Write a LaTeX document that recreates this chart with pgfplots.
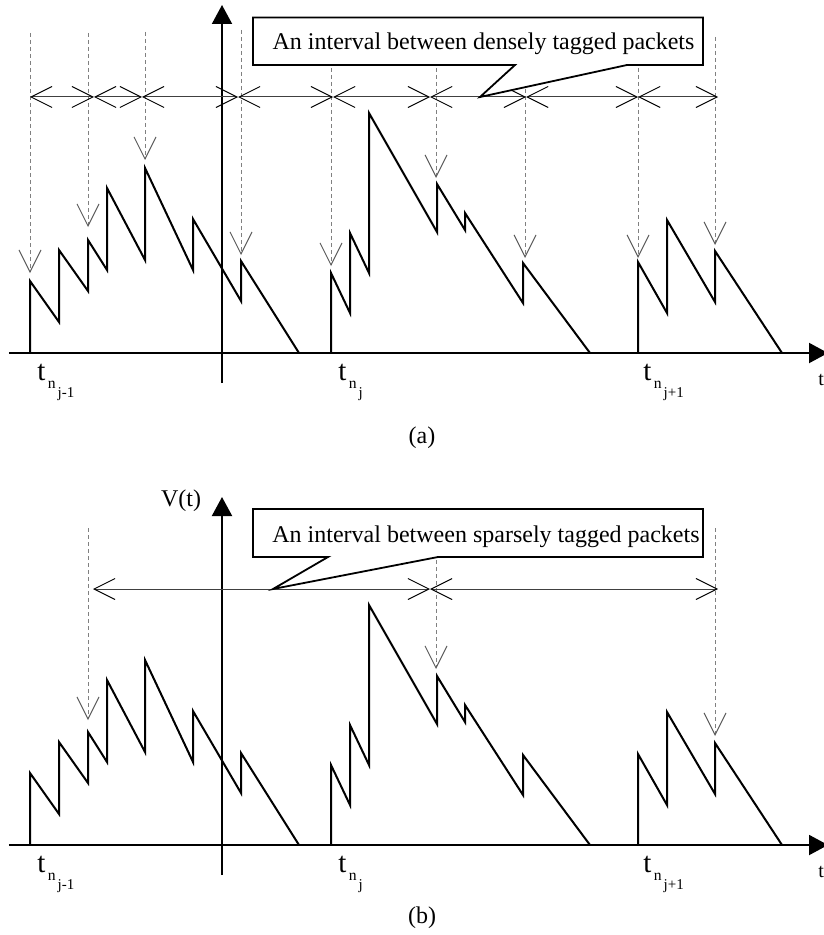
\documentclass[border=0pt]{standalone}
\usepackage{fontspec}
\setmainfont{Liberation Serif}
\usepackage{pgfplots}
\usepackage{pgfplotstable}
\pgfplotsset{compat=1.18}
\usetikzlibrary{arrows.meta}

% sawtooth V(t), t measured from the vertical axis
\pgfplotstableread{
t V
-192 0
-192 72
-163 31
-163 103
-134 62
-134 113
-115 83
-115 165
-77 93
-77 185
-29 83
-29 134
19 52
19 92
77 0
}\sawA
\pgfplotstableread{
t V
109 0
109 80
128 40
128 120
147 80
147 240
215 121
215 169
243 123
243 140
301 50
301 90
368 0
}\sawB
\pgfplotstableread{
t V
416 0
416 91
445 40
445 133
493 51
493 102
560 0
}\sawC

\newcommand{\tlab}[1]{{\fontsize{14.5}{15}\selectfont t}\kern1.2pt\raisebox{-4pt}{\fontsize{7.8}{8}\selectfont n\kern1pt\raisebox{-4.5pt}{\fontsize{7.5}{8}\selectfont #1}}}

\pgfplotsset{
  panel/.style={x=0.5pt, y=0.5pt, xmin=-213, xmax=606, ymin=-30, ymax=348,
    axis lines=middle, xtick=\empty, ytick=\empty, enlargelimits=false, clip=false,
    axis line style={line width=1pt, black},
    inner axis line style={-{Triangle[length=9.5pt,width=10pt]}},
    anchor=south west},
  saw/.style={black, line width=1pt, line join=miter, mark=none},
  tag/.style={black!50, line width=0.5pt, dash pattern=on 2pt off 1.5pt,
    -{Straight Barb[length=11pt,width=11pt,color=black!65]}, mark=none},
  span/.style={black!75, line width=0.5pt,
    {Straight Barb[length=10.5pt,width=10.5pt,color=black]}-{Straight Barb[length=10.5pt,width=10.5pt,color=black]}, mark=none},
  callout/.style={draw=black, fill=white, line width=0.9pt, line join=miter, mark=none},
}

\begin{document}
\begin{tikzpicture}
% ---------------- panel (a) ----------------
\begin{axis}[panel, at={(4.5pt,-191.5pt)}]
\addplot[saw] table[x=t,y=V] {\sawA};
\addplot[saw] table[x=t,y=V] {\sawB};
\addplot[saw] table[x=t,y=V] {\sawC};
% tagged packets
\addplot[tag] coordinates {(-192,320) (-192,80)};
\addplot[tag] coordinates {(-134,320) (-134,126)};
\addplot[tag] coordinates {(-77,321) (-77,193)};
\addplot[tag] coordinates {(19,323) (19,98)};
\addplot[tag] coordinates {(109,320) (109,87)};
\addplot[tag] coordinates {(214,320) (214,175)};
\addplot[tag] coordinates {(303,320) (303,95)};
\addplot[tag] coordinates {(416,320) (416,95)};
\addplot[tag] coordinates {(493,316) (493,108)};
% intervals
\addplot[span] coordinates {(-192,256) (-128,256)};
\addplot[span] coordinates {(-128,256) (-80,256)};
\addplot[span] coordinates {(-80,256) (16,256)};
\addplot[span] coordinates {(16,256) (111,256)};
\addplot[span] coordinates {(111,256) (208,256)};
\addplot[span] coordinates {(208,256) (304,256)};
\addplot[span] coordinates {(304,256) (416,256)};
\addplot[span] coordinates {(416,256) (496,256)};
% callout
\addplot[callout] coordinates {(31,335.5) (481,335.5) (481,288) (405,288) (258,256) (293,288) (31,288)} -- cycle;
\node[anchor=base, inner sep=0, font=\fontsize{12}{14}\selectfont] at (axis cs:261.5,303) {An interval between densely tagged packets};
% labels
\node[anchor=base west, inner sep=0] at (axis cs:-185,-27) {\tlab{j-1}};
\node[anchor=base west, inner sep=0] at (axis cs:116,-27) {\tlab{j}};
\node[anchor=base west, inner sep=0] at (axis cs:421,-27) {\tlab{j+1}};
\node[anchor=base west, inner sep=0, font=\fontsize{10}{12}\selectfont] at (axis cs:596,-32) {t};
\node[inner sep=0, font=\fontsize{12}{14}\selectfont] at (axis cs:200,-85) {(a)};
\end{axis}

% ---------------- panel (b) ----------------
\begin{axis}[panel, at={(4.5pt,-437.5pt)}]
\addplot[saw] table[x=t,y=V] {\sawA};
\addplot[saw] table[x=t,y=V] {\sawB};
\addplot[saw] table[x=t,y=V] {\sawC};
\addplot[tag] coordinates {(-134,317) (-134,125)};
\addplot[tag] coordinates {(214,320) (214,176)};
\addplot[tag] coordinates {(493,317) (493,109)};
\addplot[span] coordinates {(-129,256) (208,256)};
\addplot[span] coordinates {(208,256) (496,256)};
\addplot[callout] coordinates {(31,336) (481,336) (481,288) (216,288) (51,256) (106,288) (31,288)} -- cycle;
\node[anchor=base, inner sep=0, font=\fontsize{12}{14}\selectfont] at (axis cs:264,303) {An interval between sparsely tagged packets};
\node[inner sep=0, font=\fontsize{12}{14}\selectfont] at (axis cs:-41,344) {V(t)};
\node[anchor=base west, inner sep=0] at (axis cs:-185,-27) {\tlab{j-1}};
\node[anchor=base west, inner sep=0] at (axis cs:116,-27) {\tlab{j}};
\node[anchor=base west, inner sep=0] at (axis cs:421,-27) {\tlab{j+1}};
\node[anchor=base west, inner sep=0, font=\fontsize{10}{12}\selectfont] at (axis cs:596,-32) {t};
\node[inner sep=0, font=\fontsize{12}{14}\selectfont] at (axis cs:200,-73) {(b)};
\end{axis}
\pgfresetboundingbox
\path[use as bounding box] (0,0) rectangle (411.5pt,-467.5pt);
\end{tikzpicture}
\end{document}
